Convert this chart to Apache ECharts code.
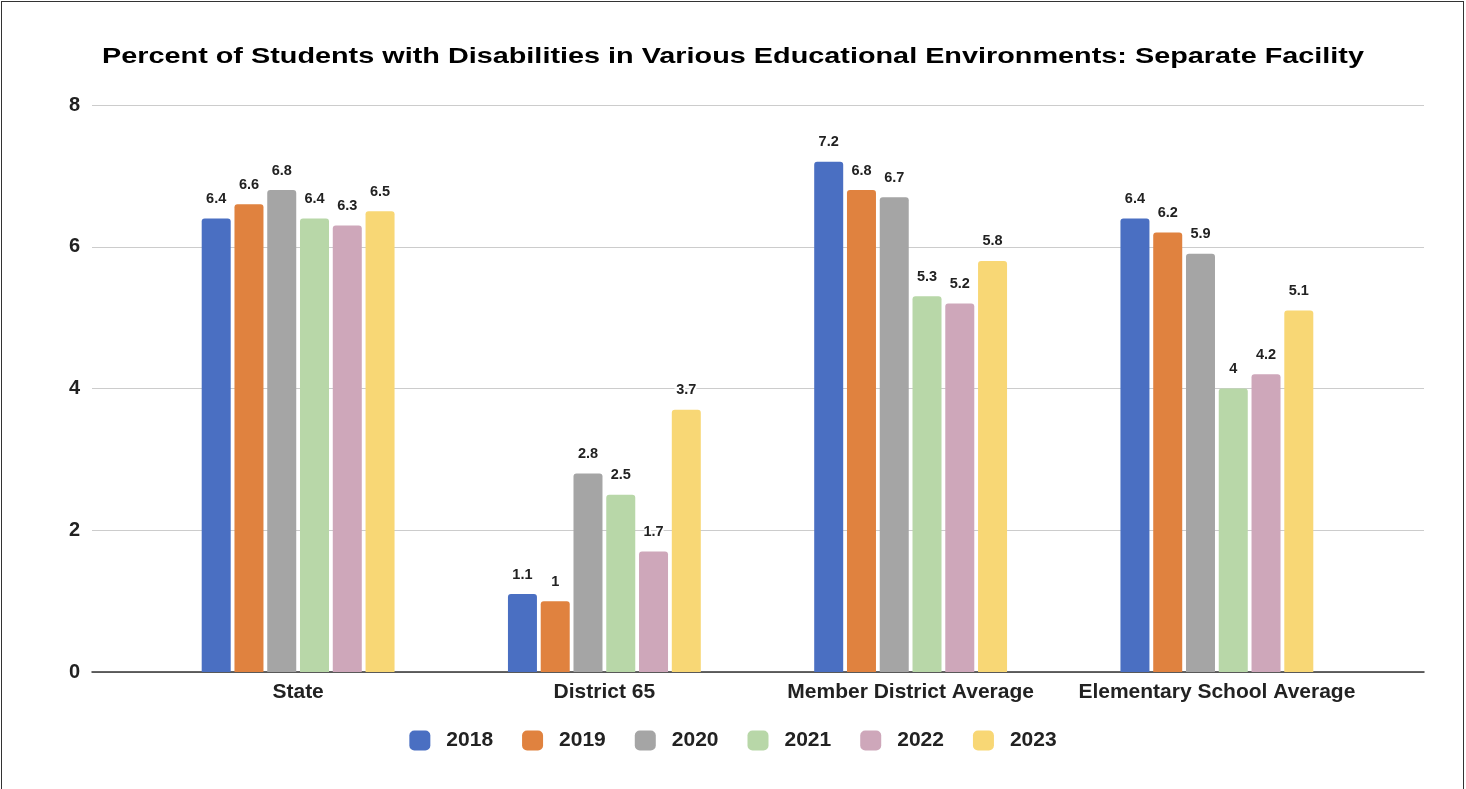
<!DOCTYPE html>
<html>
<head>
<meta charset="utf-8">
<script src="https://cdn.jsdelivr.net/npm/echarts@6/dist/echarts.min.js"></script>
<style>
  html, body { margin: 0; padding: 0; background: #fff; }
  #frame { position: absolute; left: 1px; top: 1px; width: 1463px; height: 790px; border: 1.5px solid #333; box-sizing: border-box; }
  #chart { position: absolute; left: 0; top: 0; width: 1466px; height: 789px; }
</style>
</head>
<body>
<div id="chart"></div>
<div id="frame"></div>
<script>
// Separate-facility placement rates by group and school year
const categories = ['State', 'District 65', 'Member District Average', 'Elementary School Average'];
const years = ['2018', '2019', '2020', '2021', '2022', '2023'];
const values2018 = [6.4, 1.1, 7.2, 6.4];
const values2019 = [6.6, 1.0, 6.8, 6.2];
const values2020 = [6.8, 2.8, 6.7, 5.9];
const values2021 = [6.4, 2.5, 5.3, 4.0];
const values2022 = [6.3, 1.7, 5.2, 4.2];
const values2023 = [6.5, 3.7, 5.8, 5.1];
const yTicks = [0, 2, 4, 6, 8];
const chartTitle = 'Percent of Students with Disabilities in Various Educational Environments: Separate Facility';

const seriesValues = [values2018, values2019, values2020, values2021, values2022, values2023];
const colors = ['#4a6fc2', '#e0823f', '#a5a5a5', '#b8d7a8', '#cea7ba', '#f8d775'];
const FONT = '"Liberation Sans", Arial, Helvetica, sans-serif';

const chart = echarts.init(document.getElementById('chart'), null, { renderer: 'canvas' });

chart.setOption({
  backgroundColor: '#fff',
  animation: false,
  color: colors,
  graphic: [
    {
      // wide bold heading, stretched horizontally around its centre
      type: 'text',
      x: 733,
      y: 57,
      scaleX: 1.31,
      style: {
        text: chartTitle,
        fontFamily: FONT,
        fontWeight: 'bold',
        fontSize: 22,
        fill: '#000',
        align: 'center',
        verticalAlign: 'middle'
      }
    }
  ],
  legend: {
    data: years,
    left: 'center',
    top: 730,
    padding: 0,
    itemWidth: 21,
    itemHeight: 20,
    itemGap: 29,
    icon: 'roundRect',
    textStyle: { fontFamily: FONT, fontWeight: 'bold', fontSize: 21, color: '#222', padding: [0, 0, 0, 11] }
  },
  grid: [
    // full-width grid: value gridlines, tick labels and baseline
    { left: 92, right: 42, top: 105, bottom: 117 },
    // inner grid: the category bands holding the bars
    { left: 145, right: 96, top: 105, bottom: 117 }
  ],
  xAxis: [
    {
      gridIndex: 0,
      type: 'value',
      min: 0, max: 1,
      axisLine: { show: true, onZero: false, lineStyle: { color: '#333', width: 1.5 } },
      axisTick: { show: false },
      axisLabel: { show: false },
      splitLine: { show: false }
    },
    {
      gridIndex: 1,
      type: 'category',
      data: categories,
      axisLine: { show: false },
      axisTick: { show: false },
      axisLabel: { interval: 0, hideOverlap: false, margin: 10, fontFamily: FONT, fontWeight: 'bold', fontSize: 21, color: '#222' }
    }
  ],
  yAxis: [
    {
      gridIndex: 0,
      type: 'value',
      min: yTicks[0],
      max: yTicks[yTicks.length - 1],
      interval: yTicks[1] - yTicks[0],
      axisLine: { show: false },
      axisTick: { show: false },
      axisLabel: { margin: 12, fontFamily: FONT, fontWeight: 'bold', fontSize: 20, color: '#222' },
      splitLine: { show: true, lineStyle: { color: '#cccccc', width: 1 } }
    },
    {
      gridIndex: 1,
      type: 'value',
      min: yTicks[0],
      max: yTicks[yTicks.length - 1],
      interval: yTicks[1] - yTicks[0],
      show: false,
      splitLine: { show: false }
    }
  ],
  series: years.map((y, i) => ({
    name: y,
    type: 'bar',
    xAxisIndex: 1,
    yAxisIndex: 1,
    data: seriesValues[i],
    barWidth: 29,
    barGap: '13%',
    z: 3,
    itemStyle: { color: colors[i], borderRadius: [3, 3, 0, 0] },
    label: {
      show: true,
      position: 'top',
      distance: 12,
      fontFamily: FONT,
      fontWeight: 'bold',
      fontSize: 14.5,
      color: '#222',
      textBorderColor: '#fff',
      textBorderWidth: 4
    }
  }))
});
</script>
</body>
</html>
